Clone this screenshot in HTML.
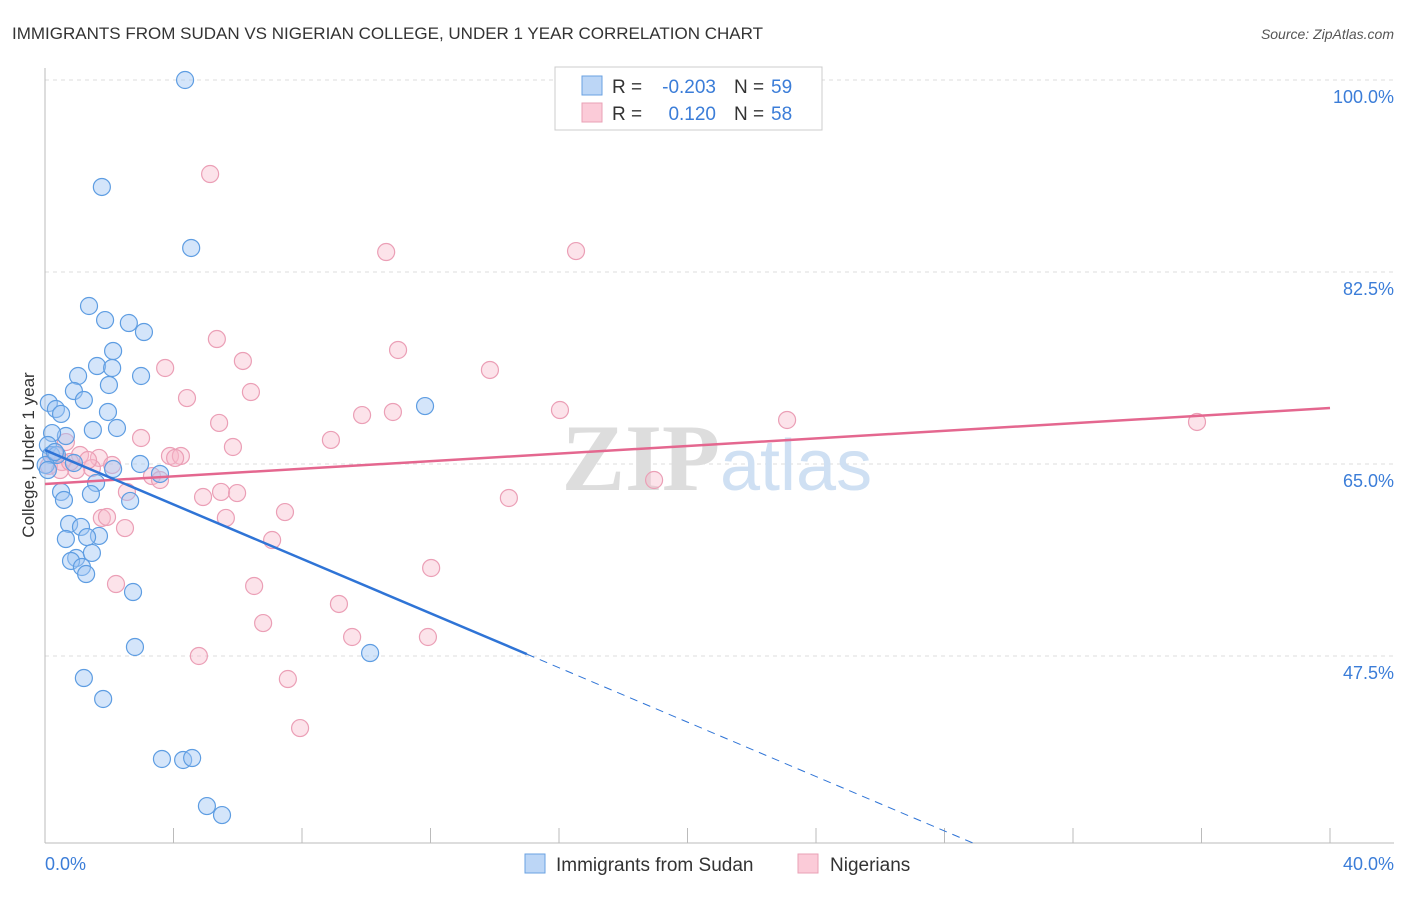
<!DOCTYPE html>
<html><head><meta charset="utf-8"><style>
body{margin:0;background:#fff;font-family:"Liberation Sans",sans-serif}
</style></head><body>
<svg width="1406" height="892" xmlns="http://www.w3.org/2000/svg" font-family="Liberation Sans, sans-serif">
<text x="12" y="39" font-size="17" fill="#333">IMMIGRANTS FROM SUDAN VS NIGERIAN COLLEGE, UNDER 1 YEAR CORRELATION CHART</text>
<text x="1394" y="39" font-size="14" fill="#555" text-anchor="end" font-style="italic">Source: ZipAtlas.com</text>
<g id="grid"></g>
<text x="720" y="490" font-size="95" font-weight="bold" fill="#ddd" text-anchor="end" font-family="Liberation Serif, serif">ZIP</text>
<text x="720" y="490" font-size="72" fill="#cfe0f3">atlas</text>
<g id="pts"></g>
<g id="lines"></g>
<text transform="translate(34,455) rotate(-90)" font-size="17" fill="#333" text-anchor="middle">College, Under 1 year</text>
<text x="45" y="870" font-size="18" fill="#3b7dd8">0.0%</text>
<text x="1394" y="870" font-size="18" fill="#3b7dd8" text-anchor="end">40.0%</text>
<g font-size="19">
<rect x="555" y="67" width="267" height="63" fill="#fff" stroke="#ccc"/>
<rect x="582" y="76" width="20" height="19" fill="#bcd6f6" stroke="#6aa1e2"/>
<rect x="582" y="103" width="20" height="19" fill="#fbcbd8" stroke="#eaa0b6"/>
<text x="612" y="93" fill="#333">R =</text>
<text x="716" y="93" fill="#3b7dd8" text-anchor="end">-0.203</text>
<text x="734" y="93" fill="#333">N =</text>
<text x="771" y="93" fill="#3b7dd8">59</text>
<text x="612" y="120" fill="#333">R =</text>
<text x="716" y="120" fill="#3b7dd8" text-anchor="end">0.120</text>
<text x="734" y="120" fill="#333">N =</text>
<text x="771" y="120" fill="#3b7dd8">58</text>
</g>
<g>
<rect x="525" y="854" width="20" height="19" fill="#bcd6f6" stroke="#6aa1e2"/>
<text x="556" y="871" font-size="19" fill="#333">Immigrants from Sudan</text>
<rect x="798" y="854" width="20" height="19" fill="#fbcbd8" stroke="#eaa0b6"/>
<text x="830" y="871" font-size="19" fill="#333">Nigerians</text>
</g>
</svg>
<script>
const yTicks=[100,82.5,65,47.5];
const xTickCount=10;
const sudanX=[4.36,1.77,4.55,1.37,2.61,1.87,3.08,2.12,1.62,2.09,2.99,1.03,1.99,0.90,1.21,0.12,0.34,0.50,1.96,1.49,2.24,0.65,0.22,0.09,0.19,11.83,0.37,0.90,2.12,2.96,3.58,1.59,0.50,1.43,0.59,2.65,0.75,1.12,0.65,1.68,1.31,0.97,0.81,1.46,1.15,1.28,2.74,2.80,10.12,1.21,1.81,3.64,4.30,4.58,5.04,5.51,0.02,0.09,0.31];
const sudanY=[100.0,90.25,84.69,79.40,77.85,78.12,77.03,75.30,73.93,73.75,73.02,73.02,72.20,71.65,70.83,70.56,70.01,69.56,69.74,68.10,68.28,67.55,67.82,66.73,65.82,70.28,65.82,65.09,64.54,65.00,64.09,63.27,62.45,62.26,61.72,61.63,59.53,59.26,58.16,58.44,58.34,56.43,56.16,56.89,55.61,54.97,53.33,48.32,47.77,45.49,43.58,38.11,38.02,38.20,33.82,33.00,64.91,64.45,66.09];
const nigX=[5.14,10.62,16.53,5.35,10.99,6.16,3.74,13.85,6.41,4.42,9.87,10.83,16.03,23.10,35.86,5.42,2.99,8.90,5.85,0.65,3.89,4.23,4.05,1.09,1.68,2.09,0.53,0.31,0.12,1.46,0.97,3.33,3.58,2.55,4.92,5.48,5.98,14.44,18.96,1.77,1.93,7.47,5.63,2.49,7.07,2.21,6.51,9.15,12.02,6.79,9.56,11.92,4.79,7.56,7.94,0.47,0.78,1.34];
const nigY=[91.43,84.32,84.41,76.39,75.39,74.39,73.75,73.57,71.56,71.01,69.46,69.74,69.92,69.01,68.83,68.74,67.37,67.19,66.55,67.00,65.73,65.73,65.55,65.82,65.55,64.91,65.18,65.82,64.82,64.63,64.45,63.90,63.54,62.45,61.99,62.45,62.35,61.90,63.54,60.08,60.17,60.62,60.08,59.16,58.07,54.06,53.88,52.24,55.52,50.50,49.23,49.23,47.50,45.40,40.93,64.45,65.18,65.36];
const sudanTrend=[66.27,-1.24];
const nigTrend=[63.18,0.173];
const NS="http://www.w3.org/2000/svg";
const X=v=>45+v/40*1285, Y=v=>80+(100-v)*10.971;
function mk(t,a,p){const e=document.createElementNS(NS,t);for(const k in a)e.setAttribute(k,a[k]);p.appendChild(e);return e;}
const grid=document.getElementById('grid');
yTicks.forEach(t=>{const l=mk('line',{x1:45,x2:1394,y1:Y(t),y2:Y(t),stroke:'#ddd','stroke-dasharray':'4,4'},grid);


const tx=mk('text',{x:1394,y:Y(t)+23,'font-size':18,fill:'#3b7dd8','text-anchor':'end'},grid);tx.textContent=t.toFixed(1)+'%';

});
const ax=mk('line',{x1:45,x2:45,y1:68,y2:843,stroke:'#bbb'},grid);


const bx=mk('line',{x1:45,x2:1394,y1:843,y2:843,stroke:'#bbb'},grid);


for(let i=1;i<=xTickCount;i++){const t=mk('line',{x1:X(i*4),x2:X(i*4),y1:828,y2:843,stroke:'#bbb'},grid);

}
const pts=document.getElementById('pts');
nigX.forEach((x,i)=>{const c=mk('circle',{cx:X(x),cy:Y(nigY[i]),r:8.5,fill:'rgba(248,185,203,0.4)',stroke:'#eb9fb6','stroke-width':1.2},pts);

});
sudanX.forEach((x,i)=>{const c=mk('circle',{cx:X(x),cy:Y(sudanY[i]),r:8.5,fill:'rgba(160,198,244,0.45)',stroke:'#5e9de2','stroke-width':1.2},pts);

});
const L=document.getElementById('lines');
const f=(tr,x)=>tr[0]+tr[1]*x;
const p1=mk('line',{x1:X(0),y1:Y(f(nigTrend,0)),x2:X(40),y2:Y(f(nigTrend,40)),stroke:'#e4678f','stroke-width':2.5},L);


const b1=mk('line',{x1:X(0),y1:Y(f(sudanTrend,0)),x2:X(15),y2:Y(f(sudanTrend,15)),stroke:'#2f74d6','stroke-width':2.5},L);


const b2=mk('line',{x1:X(15),y1:Y(f(sudanTrend,15)),x2:X(28.95),y2:Y(f(sudanTrend,28.95)),stroke:'#2f74d6','stroke-width':1,'stroke-dasharray':'8,6'},L);


</script>
</body></html>
